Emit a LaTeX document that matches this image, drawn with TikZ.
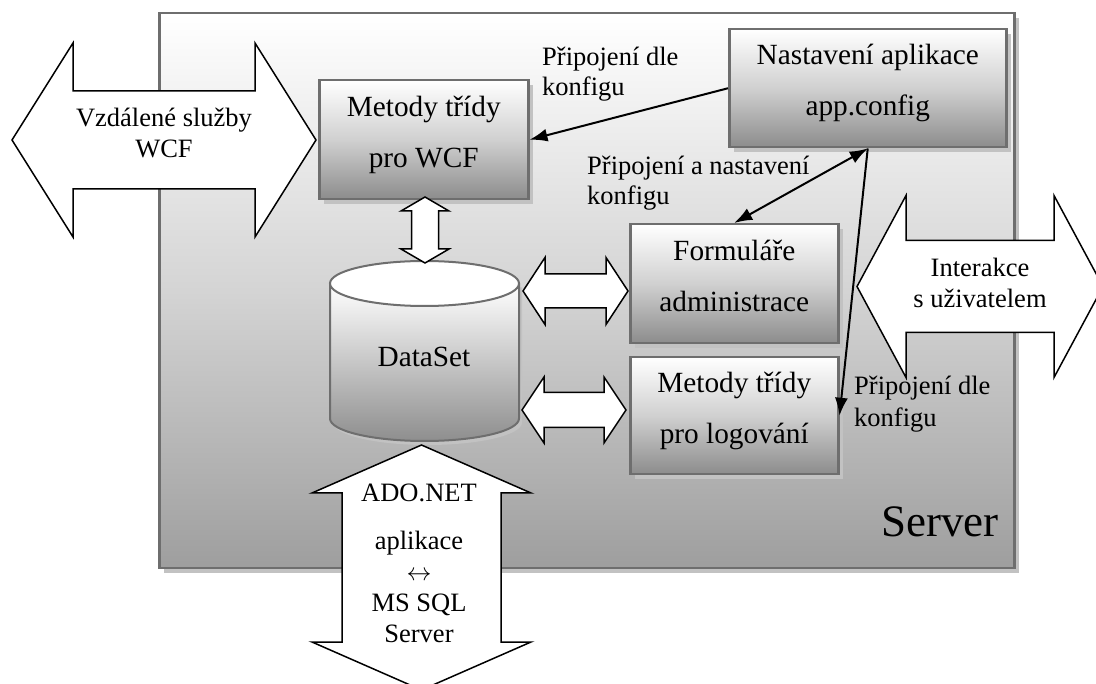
\documentclass[tikz,border=0pt]{standalone}
\usepackage{fontspec}
\setmainfont{Liberation Serif}
\usetikzlibrary{arrows.meta,shadows}

\definecolor{frame}{HTML}{6E6E6E}
\definecolor{shadowgray}{HTML}{C2C2C2}
\definecolor{boxdark}{HTML}{8C8C8C}
\definecolor{boxmid}{HTML}{D0D0D0}
\definecolor{srvdark}{HTML}{9E9E9E}
\definecolor{srvmid}{HTML}{D4D4D4}
\definecolor{cyldark}{HTML}{8E8E8E}

% horizontal double block arrow: x-left, x-right, y-centre, head length, head half-height, shaft half-height
\newcommand{\hdblarrow}[6]{%
  \draw[blockarrow] (#1,#3) -- ({#1+#4},{#3-#5}) -- ({#1+#4},{#3-#6}) -- ({#2-#4},{#3-#6})
    -- ({#2-#4},{#3-#5}) -- (#2,#3) -- ({#2-#4},{#3+#5}) -- ({#2-#4},{#3+#6})
    -- ({#1+#4},{#3+#6}) -- ({#1+#4},{#3+#5}) -- cycle;}
% vertical double block arrow: x-centre, y-top, y-bottom, head length, head half-width, shaft half-width
\newcommand{\vdblarrow}[6]{%
  \draw[blockarrow] (#1,#2) -- ({#1+#5},{#2+#4}) -- ({#1+#6},{#2+#4}) -- ({#1+#6},{#3-#4})
    -- ({#1+#5},{#3-#4}) -- (#1,#3) -- ({#1-#5},{#3-#4}) -- ({#1-#6},{#3-#4})
    -- ({#1-#6},{#2+#4}) -- ({#1-#5},{#2+#4}) -- cycle;}

\tikzset{
  blockarrow/.style={draw=black, fill=white, line width=1.5pt, line join=miter},
  panel/.style={draw=frame, line width=2.5pt, inner sep=0pt, anchor=north west,
    top color=white, bottom color=boxdark, middle color=boxmid,
    drop shadow={shadow xshift=5pt, shadow yshift=-5pt, fill=shadowgray, opacity=1}},
  servercase/.style={draw=frame, line width=2.5pt, inner sep=0pt, anchor=north west,
    top color=white, bottom color=srvdark, middle color=srvmid,
    drop shadow={shadow xshift=5pt, shadow yshift=-5pt, fill=shadowgray, opacity=1}},
  % multi-line texts are anchored at the baseline of their last line
  boxtext/.style={inner sep=0pt, anchor=base, align=center,
    font=\fontsize{29.3}{51.5}\selectfont},
  arrowtext/.style={inner sep=0pt, anchor=base, align=center,
    font=\fontsize{26.5}{31}\selectfont},
  lbl/.style={inner sep=0pt, anchor=base west, align=left,
    font=\fontsize{26.5}{30}\selectfont},
  conn/.style={draw=black, line width=2pt, -{Latex[length=18pt,width=13pt]}},
  dconn/.style={draw=black, line width=2pt, {Latex[length=18pt,width=13pt]}-{Latex[length=18pt,width=13pt]}},
}

\begin{document}
\begin{tikzpicture}[x=1pt, y=-1pt]
\useasboundingbox (0,0) rectangle (1096,684);

% server enclosure
\node[servercase, minimum width=855pt, minimum height=555pt] (srv) at (158,12) {};
\node[inner sep=0pt, anchor=base east, font=\fontsize{45}{50}\selectfont] (srvname) at (999,537) {Server};

% boxes
\node[panel, minimum width=209pt, minimum height=119pt] (wcf) at (318,79) {};
\node[panel, minimum width=277pt, minimum height=118pt] (nast) at (728,28) {};
\node[panel, minimum width=208pt, minimum height=119pt] (form) at (629,223) {};
\node[panel, minimum width=208pt, minimum height=117pt] (logb) at (629,356) {};

\node[boxtext] (wcf-t) at ([yshift=-89pt]wcf.north) {Metody třídy\\pro WCF};
\node[boxtext] (nast-t) at ([yshift=-88pt]nast.north) {Nastavení aplikace\\app.config};
\node[boxtext] (form-t) at ([yshift=-89pt]form.north) {Formuláře\\administrace};
\node[boxtext] (logb-t) at ([yshift=-88pt]logb.north) {Metody třídy\\pro logování};

% DataSet cylinder: shadow, shaded body, white lid
\begin{scope}[xshift=3pt, yshift=-4pt]
  \fill[shadowgray] (330,283.5) -- (330,418.5)
    .. controls (330,430.93) and (372.31,441) .. (424.5,441)
    .. controls (476.69,441) and (519,430.93) .. (519,418.5) -- (519,283.5) -- cycle;
\end{scope}
\path[draw=frame, line width=2pt, top color=white, bottom color=cyldark]
  (330,283.5) -- (330,418.5)
  .. controls (330,430.93) and (372.31,441) .. (424.5,441)
  .. controls (476.69,441) and (519,430.93) .. (519,418.5) -- (519,283.5);
\draw[frame, line width=2pt, fill=white] (424.5,283.5) ellipse [x radius=94.5, y radius=22.5];
\node[boxtext] (ds) at (424,367) {DataSet};

% block arrows
\hdblarrow{12}{316}{140}{61}{97}{49}
\node[arrowtext] (wcf-arrow-t) at (164,158) {Vzdálené služby\\WCF};

\hdblarrow{857}{1103}{286.5}{49}{91}{46}
\node[arrowtext] (user-arrow-t) at (980,308) {Interakce\\s uživatelem};

\hdblarrow{523}{628}{291}{22}{33.5}{17}
\hdblarrow{522}{626}{410}{22}{33}{17.5}
\vdblarrow{425}{197}{263}{14}{24}{13.5}

\vdblarrow{421.5}{445}{690}{48}{109.5}{79.5}
\node[arrowtext] (sql-arrow-t) at (419,642) {ADO.NET\\[17pt]aplikace\\$\leftrightarrow$\\MS SQL\\Server};

% connector labels
\node[lbl] (l1) at (542,96) {Připojení dle\\konfigu};
\node[lbl] (l2) at (587,205) {Připojení a nastavení\\konfigu};
\node[lbl] (l3) at (854,427) {Připojení dle\\[2pt]konfigu};

% connectors
\draw[conn] (nast.west) -- (wcf.east);
\draw[dconn] (nast.south) -- (form.north);
\draw[conn] (nast.south) -- (logb.east);
\end{tikzpicture}
\end{document}
